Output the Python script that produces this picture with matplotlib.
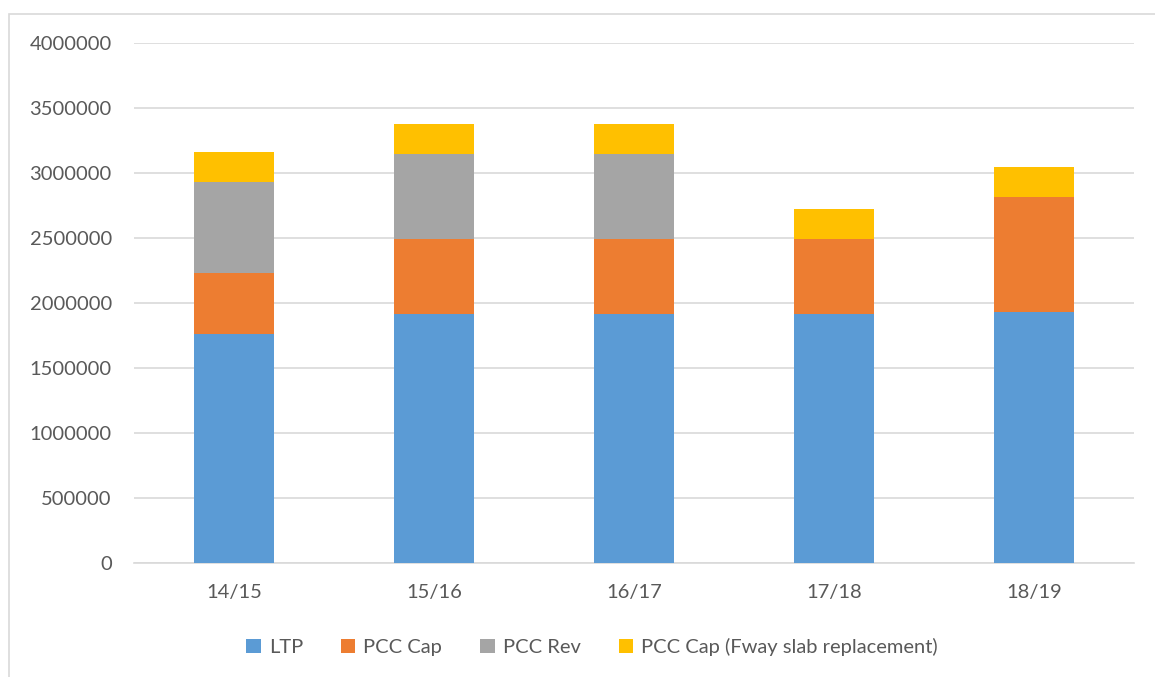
#Uvozenje biblioteka
import matplotlib.pyplot as plt
from matplotlib.patches import Rectangle
import numpy as np

#Podaci ocitani sa grafikona
godine = ['14/15', '15/16', '16/17', '17/18', '18/19']
ltp = [1760000, 1918000, 1918000, 1918000, 1931000]
pcc_cap = [468000, 577000, 577000, 577000, 884000]
pcc_rev = [700000, 651000, 651000, 0, 0]
pcc_fway = [231000, 229000, 229000, 231000, 231000]

serije = ['LTP', 'PCC Cap', 'PCC Rev', 'PCC Cap (Fway slab replacement)']
boje = ['#5B9BD5', '#ED7D31', '#A5A5A5', '#FFC000']

plt.rcParams['font.family'] = ['Lato', 'DejaVu Sans']
siva = '#595959'

fig = plt.figure(figsize=(11.55, 6.77), dpi=100)
ax = fig.add_axes([134 / 1155, 1 - 563 / 677, 1000 / 1155, 520 / 677])

#Okvir oko celog grafikona
fig.patches.append(Rectangle((9 / 1155, -0.05), 1.05, 1 - 14 / 677 + 0.05,
                             transform=fig.transFigure, fill=False,
                             edgecolor='#D9D9D9', linewidth=1.2))

x = np.arange(len(godine))
dno = np.zeros(len(godine))
for vrednosti, ime, boja in zip([ltp, pcc_cap, pcc_rev, pcc_fway], serije, boje):
    ax.bar(x, vrednosti, width=0.4, bottom=dno, color=boja, label=ime, zorder=3)
    dno = dno + np.array(vrednosti)

ax.set_xlim(-0.5, len(godine) - 0.5)
ax.set_ylim(0, 4000000)
ax.set_yticks(np.arange(0, 4000001, 500000))
ax.set_yticklabels([str(v) for v in range(0, 4000001, 500000)])
ax.set_xticks(x)
ax.set_xticklabels(godine)
ax.yaxis.grid(True, color='#D9D9D9', linewidth=1.2, zorder=0)
for s in ['top', 'right', 'left']:
    ax.spines[s].set_visible(False)
ax.spines['bottom'].set_color('#D9D9D9')
ax.spines['bottom'].set_linewidth(1.2)
ax.tick_params(axis='both', length=0, colors=siva, labelsize=14.5)
ax.tick_params(axis='y', pad=16)
ax.tick_params(axis='x', pad=15)

leg = fig.legend(loc='center', bbox_to_anchor=(592 / 1155, 1 - 647 / 677), ncol=4,
                 frameon=False, fontsize=14.5, handlelength=0.7, handleheight=0.7,
                 handletextpad=0.4, columnspacing=1.9)
for t in leg.get_texts():
    t.set_color(siva)

fig.savefig('out.png', dpi=100)
